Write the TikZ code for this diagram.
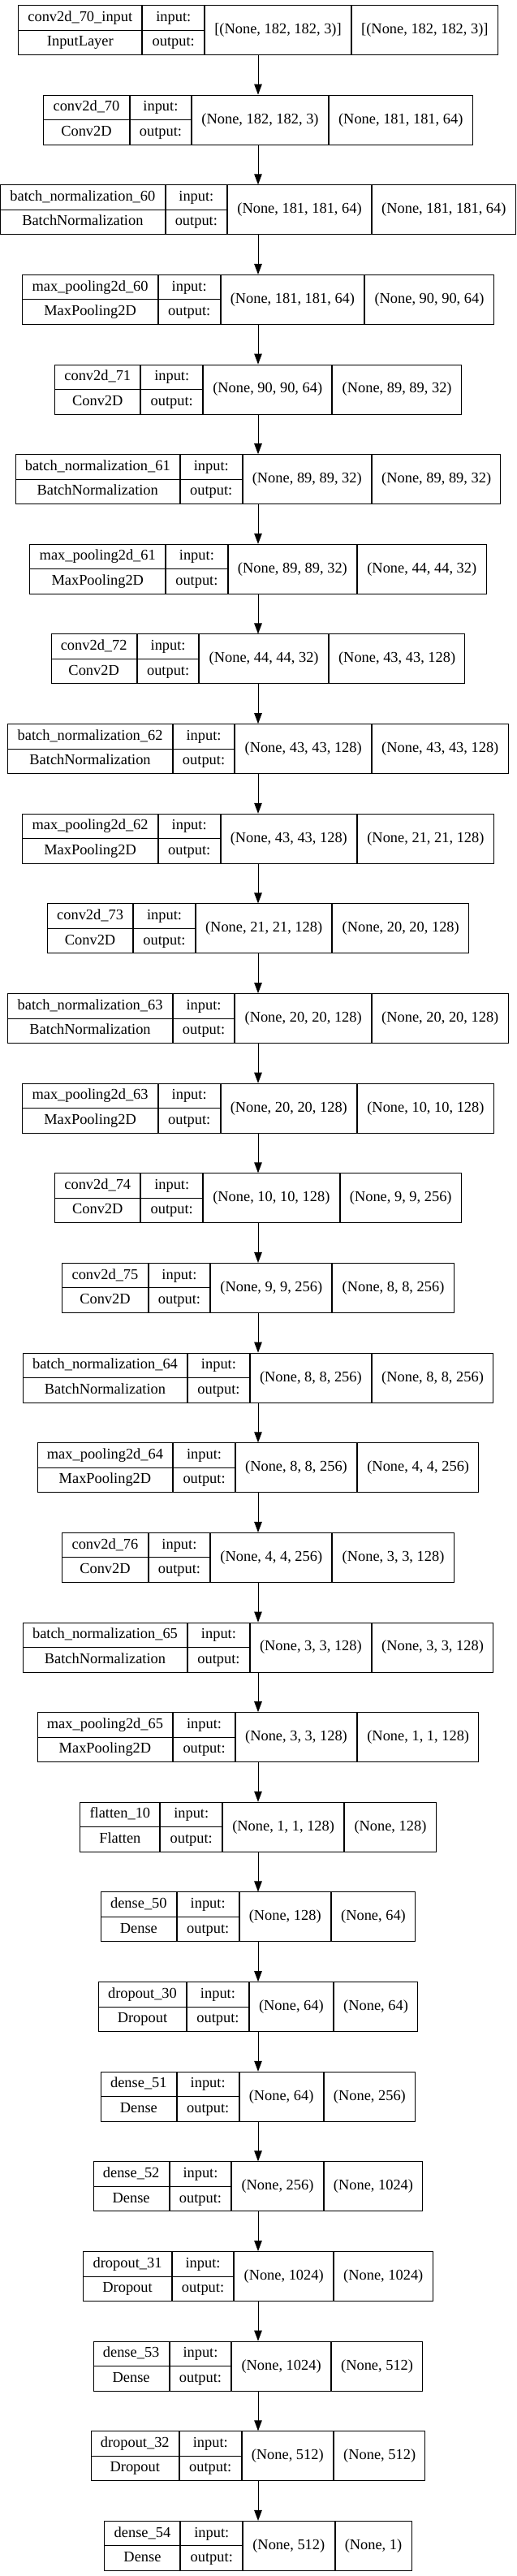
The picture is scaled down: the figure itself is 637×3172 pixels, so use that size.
\documentclass[tikz,border=0pt]{standalone}
\usepackage{fontspec}
\setmainfont{Liberation Serif}
\usetikzlibrary{arrows.meta}
\newcommand\lfont{\fontsize{18.4}{22}\selectfont}
\tikzset{
 cellbox/.style={draw=black, line width=1pt, inner xsep=11.75pt, inner ysep=0pt, outer sep=0pt,
   minimum height=61pt, font=\lfont, align=center, text=black},
 layerbox/.style={anchor=north, inner sep=0pt, outer sep=0pt, column sep=0pt, ampersand replacement=\&},
 divider/.style={draw=black, line width=1pt},
 flowarrow/.style={-{Triangle[length=13pt,width=9.5pt]}, line width=1pt, draw=black, fill=black}
}
\newcommand\mklayer[6]{%
 \pgfmathsetmacro\ytop{-(6+#2*110.64)}%
 \matrix (#1) [layerbox] at (318pt,\ytop pt) {
   \node[cellbox] (#1name) {\strut #3\\[8.5pt]\strut #4}; \&
   \node[cellbox] (#1io) {\strut input:\\[8.5pt]\strut output:}; \&
   \node[cellbox] (#1in) {\strut #5}; \&
   \node[cellbox] (#1out) {\strut #6}; \\
 };
 \draw[divider] (#1name.west) -- (#1io.east);
}
\begin{document}
\begin{tikzpicture}
\fill[white] (0,0) rectangle (637pt,-3172pt);
\useasboundingbox (0,0) rectangle (637pt,-3172pt);
\mklayer{L0}{0}{conv2d\_70\_input}{InputLayer}{[(None, 182, 182, 3)]}{[(None, 182, 182, 3)]}
\mklayer{L1}{1}{conv2d\_70}{Conv2D}{(None, 182, 182, 3)}{(None, 181, 181, 64)}
\mklayer{L2}{2}{batch\_normalization\_60}{BatchNormalization}{(None, 181, 181, 64)}{(None, 181, 181, 64)}
\mklayer{L3}{3}{max\_pooling2d\_60}{MaxPooling2D}{(None, 181, 181, 64)}{(None, 90, 90, 64)}
\mklayer{L4}{4}{conv2d\_71}{Conv2D}{(None, 90, 90, 64)}{(None, 89, 89, 32)}
\mklayer{L5}{5}{batch\_normalization\_61}{BatchNormalization}{(None, 89, 89, 32)}{(None, 89, 89, 32)}
\mklayer{L6}{6}{max\_pooling2d\_61}{MaxPooling2D}{(None, 89, 89, 32)}{(None, 44, 44, 32)}
\mklayer{L7}{7}{conv2d\_72}{Conv2D}{(None, 44, 44, 32)}{(None, 43, 43, 128)}
\mklayer{L8}{8}{batch\_normalization\_62}{BatchNormalization}{(None, 43, 43, 128)}{(None, 43, 43, 128)}
\mklayer{L9}{9}{max\_pooling2d\_62}{MaxPooling2D}{(None, 43, 43, 128)}{(None, 21, 21, 128)}
\mklayer{L10}{10}{conv2d\_73}{Conv2D}{(None, 21, 21, 128)}{(None, 20, 20, 128)}
\mklayer{L11}{11}{batch\_normalization\_63}{BatchNormalization}{(None, 20, 20, 128)}{(None, 20, 20, 128)}
\mklayer{L12}{12}{max\_pooling2d\_63}{MaxPooling2D}{(None, 20, 20, 128)}{(None, 10, 10, 128)}
\mklayer{L13}{13}{conv2d\_74}{Conv2D}{(None, 10, 10, 128)}{(None, 9, 9, 256)}
\mklayer{L14}{14}{conv2d\_75}{Conv2D}{(None, 9, 9, 256)}{(None, 8, 8, 256)}
\mklayer{L15}{15}{batch\_normalization\_64}{BatchNormalization}{(None, 8, 8, 256)}{(None, 8, 8, 256)}
\mklayer{L16}{16}{max\_pooling2d\_64}{MaxPooling2D}{(None, 8, 8, 256)}{(None, 4, 4, 256)}
\mklayer{L17}{17}{conv2d\_76}{Conv2D}{(None, 4, 4, 256)}{(None, 3, 3, 128)}
\mklayer{L18}{18}{batch\_normalization\_65}{BatchNormalization}{(None, 3, 3, 128)}{(None, 3, 3, 128)}
\mklayer{L19}{19}{max\_pooling2d\_65}{MaxPooling2D}{(None, 3, 3, 128)}{(None, 1, 1, 128)}
\mklayer{L20}{20}{flatten\_10}{Flatten}{(None, 1, 1, 128)}{(None, 128)}
\mklayer{L21}{21}{dense\_50}{Dense}{(None, 128)}{(None, 64)}
\mklayer{L22}{22}{dropout\_30}{Dropout}{(None, 64)}{(None, 64)}
\mklayer{L23}{23}{dense\_51}{Dense}{(None, 64)}{(None, 256)}
\mklayer{L24}{24}{dense\_52}{Dense}{(None, 256)}{(None, 1024)}
\mklayer{L25}{25}{dropout\_31}{Dropout}{(None, 1024)}{(None, 1024)}
\mklayer{L26}{26}{dense\_53}{Dense}{(None, 1024)}{(None, 512)}
\mklayer{L27}{27}{dropout\_32}{Dropout}{(None, 512)}{(None, 512)}
\mklayer{L28}{28}{dense\_54}{Dense}{(None, 512)}{(None, 1)}
\foreach \i [evaluate=\i as \j using int(\i+1)] in {0,...,27} {
  \draw[flowarrow] (L\i.south) -- (L\j.north);
}
\end{tikzpicture}
\end{document}
